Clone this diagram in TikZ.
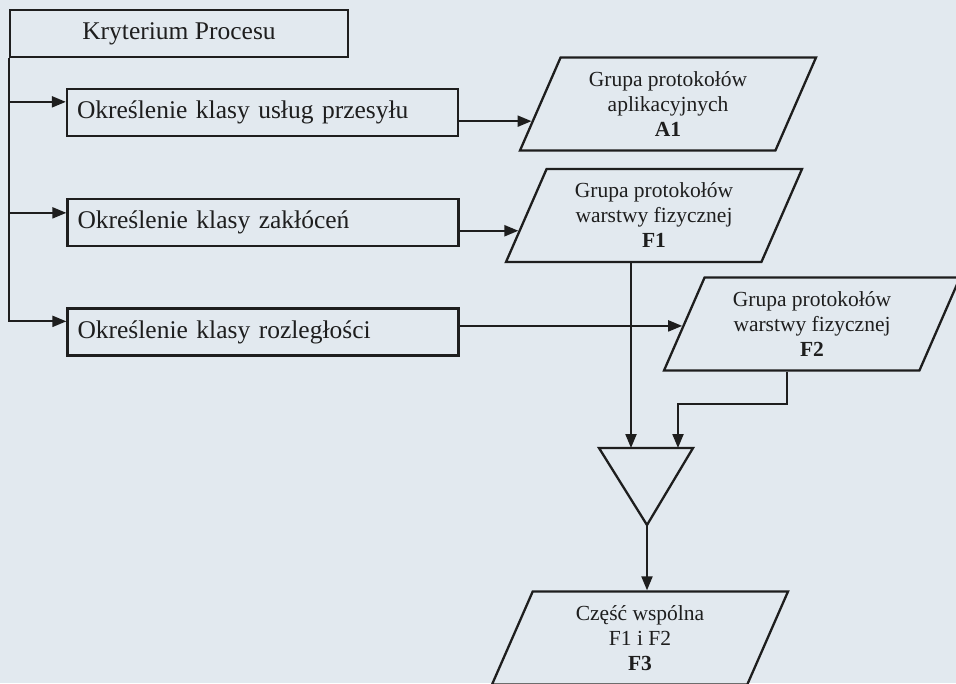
\documentclass[tikz,border=0pt]{standalone}
\usepackage{fontspec}
\setmainfont{Liberation Serif}
\usetikzlibrary{arrows.meta,shapes.geometric,calc}
\definecolor{paper}{HTML}{E2E9EF}
\definecolor{ink}{HTML}{1E1E1E}
\begin{document}
\begin{tikzpicture}[x=1pt,y=-1pt,
  box/.style={draw=ink, line width=2.3pt, minimum height=47pt, inner ysep=0pt,
    text=ink, font=\fontsize{25.5}{30}\selectfont},
  optbox/.style={box, text width=371pt, inner xsep=10pt, align=left},
  para/.style={trapezium, draw=ink, line width=2.3pt,
    trapezium left angle=58, trapezium right angle=122,
    trapezium stretches body, minimum width=296pt, minimum height=93pt,
    inner sep=0pt, align=center, text=ink, font=\fontsize{21.5}{25}\selectfont},
  flow/.style={draw=ink, line width=2.1pt, -{Triangle[length=14pt,width=11pt]}},
  plain/.style={draw=ink, line width=2.3pt}]

% page
\fill[paper] (0,0) rectangle (956,683);
\useasboundingbox (0,0) rectangle (956,683);
\clip (0,0) rectangle (956,683);

% criterion and the three classification steps
\node[box, minimum width=338pt] (krit) at (179,33.5) {Kryterium Procesu};
\node[optbox] (b1) at (262.5,112.5) {Określenie klasy usług przesyłu};
\node[optbox] (b2) at (263,222.5) {Określenie klasy zakłóceń};
\node[optbox] (b3) at (263,332) {Określenie klasy rozległości};

% protocol groups
\node[para] (a1) at (668,104) {Grupa protokołów\\aplikacyjnych\\\textbf{A1}};
\node[para] (f1) at (654,215.5) {Grupa protokołów\\warstwy fizycznej\\\textbf{F1}};
\node[para] (f2) at (812,324) {Grupa protokołów\\warstwy fizycznej\\\textbf{F2}};
\node[para] (f3) at (640,638) {Część wspólna\\F1 i F2\\\textbf{F3}};

% intersection (merge) triangle
\coordinate (tri-l) at (599,448);
\coordinate (tri-r) at (693,448);
\coordinate (tri-b) at (647,525);
\coordinate (tri-in1) at (631,448);
\coordinate (tri-in2) at (678,448);
\draw[plain] (tri-l) -- (tri-r) -- (tri-b) -- cycle;

% entry points
\coordinate (b1in) at ([yshift=-14pt]b1.north west);
\coordinate (b2in) at ([yshift=-15pt]b2.north west);
\coordinate (b3in) at ([yshift=-14pt]b3.north west);
\coordinate (a1in) at ($(a1.bottom left corner)!0.32!(a1.top left corner)$);
\coordinate (f1in) at ($(f1.bottom left corner)!0.34!(f1.top left corner)$);
\coordinate (f2in) at ($(f2.bottom left corner)!0.48!(f2.top left corner)$);

% connectors
\draw[flow] (krit.south west) |- (b1in);
\draw[flow] (krit.south west) |- (b2in);
\draw[flow] (krit.south west) |- (b3in);
\draw[flow] (b1.east |- a1in) -- (a1in);
\draw[flow] (b2.east |- f1in) -- (f1in);
\draw[flow] (b3.east |- f2in) -- (f2in);
\draw[flow] (f1.south -| tri-in1) -- (tri-in1);
\draw[flow] ([xshift=-25pt]f2.south) -- ++(0,32) -| (tri-in2);
\draw[flow] (tri-b) -- (tri-b |- f3.north);
\end{tikzpicture}
\end{document}
